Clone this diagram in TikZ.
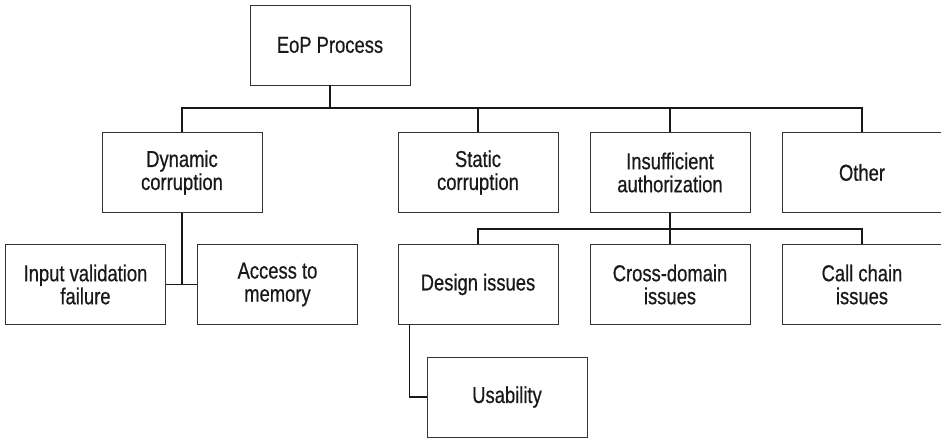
\documentclass[tikz,border=0pt]{standalone}
\usepackage{fontspec}
\setmainfont{Liberation Sans}[FakeStretch=0.8,FakeBold=0.6]
\begin{document}
\begin{tikzpicture}[x=1pt,y=-1pt,
  box/.style={draw=black!80,line width=0.9pt,rectangle,minimum width=160pt,minimum height=80pt,
    inner sep=0pt,align=center,font=\fontsize{23}{23}\selectfont,text=black!90},
  conn/.style={draw=black!90,line width=1.6pt}]
\useasboundingbox (0,0) rectangle (941,439);
\node[box] (eop) at (330,45) {EoP Process};
\node[box] (dyn) at (182,172.5) {Dynamic\\corruption};
\node[box] (stat) at (478,172.5) {Static\\corruption};
\node[box] (ins) at (670,172.5) {Insufficient\\authorization};
\node[box] (oth) at (862,172.5) {Other};
\node[box] (inp) at (85.5,284.5) {Input validation\\failure};
\node[box] (acc) at (277.5,284.5) {Access to\\memory};
\node[box] (des) at (478,284.5) {Design issues};
\node[box] (cross) at (670,284.5) {Cross-domain\\issues};
\node[box] (call) at (862,284.5) {Call chain\\issues};
\node[box] (usa) at (507,397) {Usability};
\coordinate (bus1) at (330,108);
\coordinate (bus2) at (670,229);
\coordinate (dj) at (182,284.5);
\draw[conn] (eop.south) -- (bus1);
\draw[conn] (dyn.north) |- (bus1);
\draw[conn] (stat.north) |- (bus1);
\draw[conn] (ins.north) |- (bus1);
\draw[conn] (oth.north) |- (bus1);
\draw[conn] (ins.south) -- (bus2);
\draw[conn] (des.north) |- (bus2);
\draw[conn] (cross.north) -- (bus2);
\draw[conn] (call.north) |- (bus2);
\draw[conn] (dyn.south) -- (dj);
\draw[conn] (inp.east) -- (acc.west);
\draw[conn] ([xshift=12pt]des.south west) |- (usa.west);
\end{tikzpicture}
\end{document}
